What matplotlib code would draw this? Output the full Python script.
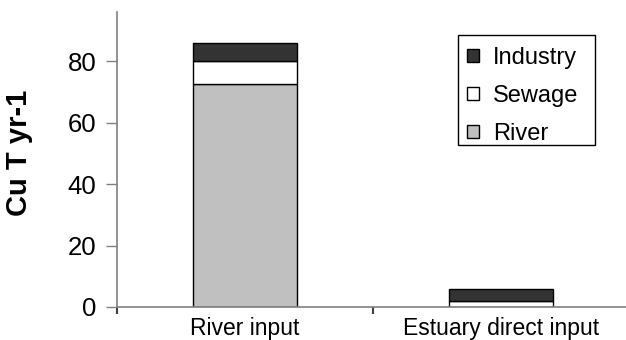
import matplotlib
matplotlib.use("Agg")
import matplotlib.pyplot as plt
from matplotlib.patches import Rectangle
import numpy as np

plt.rcParams['font.family'] = ['Liberation Sans', 'DejaVu Sans']

categories = ["River input", "Estuary direct input"]
river = [72.5, 0.0]
sewage = [7.4, 2.0]
industry = [6.0, 4.0]

W, H = 626, 340
fig = plt.figure(figsize=(W / 100, H / 100), dpi=100)
ax = fig.add_axes([117 / W, 1 - 307 / H, 512 / W, 295 / H])

x = np.arange(len(categories))
w = 0.405
b1 = ax.bar(x, river, w, color="#c0c0c0", edgecolor="black", linewidth=1.0, label="River")
b2 = ax.bar(x, sewage, w, bottom=river, color="white", edgecolor="black", linewidth=1.0, label="Sewage")
bot3 = np.array(river) + np.array(sewage)
b3 = ax.bar(x, industry, w, bottom=bot3, color="#333333", edgecolor="black", linewidth=1.0, label="Industry")

ax.set_xlim(-0.5, 1.5)
ax.set_ylim(0, 96)
ax.set_yticks([0, 20, 40, 60, 80])
ax.tick_params(axis="y", direction="out", length=8, width=1, color="#808080", labelsize=18.5, pad=7)

# category labels centered, ticks at category boundaries
ax.set_xticks([-0.5, 0.5, 1.5])
ax.set_xticklabels([])
ax.set_xticks(x, minor=True)
ax.set_xticklabels(categories, minor=True, fontsize=16.5)
ax.tick_params(axis="x", which="major", direction="out", length=5, width=1.5, color="#404040")
ax.tick_params(axis="x", which="minor", length=0, pad=7)

for s in ["top", "right"]:
    ax.spines[s].set_visible(False)
for s in ["left", "bottom"]:
    ax.spines[s].set_color("#808080")
    ax.spines[s].set_linewidth(1.2)

ax.set_ylabel("Cu T yr-1", fontsize=21, fontweight="bold")
ax.yaxis.set_label_coords(-(117 - 33) / 512, (307 - 153) / 295)

# legend entries without frame; frame drawn separately as a box
leg = fig.legend(handles=[b3, b2, b1], labels=["Industry", "Sewage", "River"],
                 loc="upper left", bbox_to_anchor=(467 / W, 1 - 47 / H),
                 fontsize=17, frameon=False,
                 handlelength=0.5, handleheight=0.5, handletextpad=0.6,
                 labelspacing=0.68, borderpad=0, borderaxespad=0)
fig.add_artist(Rectangle((458 / W, 1 - 145 / H), 137 / W, 110 / H,
                         transform=fig.transFigure, fill=False,
                         edgecolor="black", linewidth=1.0))

fig.savefig("out.png", dpi=100)
